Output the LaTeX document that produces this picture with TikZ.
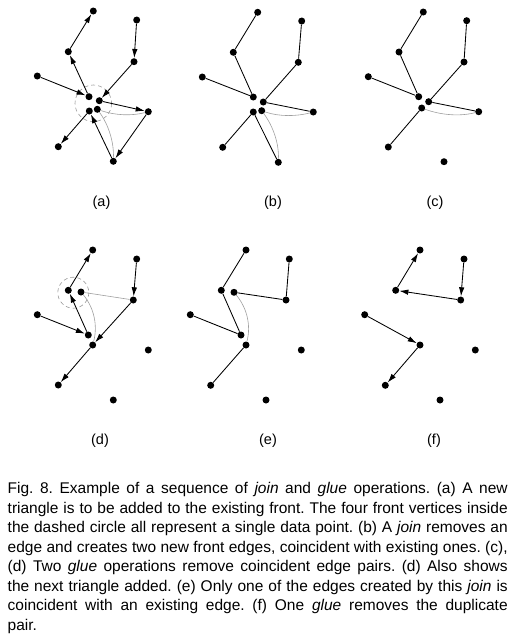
\documentclass[tikz,border=0pt]{standalone}
\usepackage{fontspec}
\setmainfont{Liberation Sans}
\usetikzlibrary{arrows.meta}
\tikzset{
  pt/.style={circle, fill=black, inner sep=0pt, minimum size=7pt},
  fe/.style={line width=0.85pt, black},
  fa/.style={fe, -{Latex[length=9pt,width=5.5pt]}},
  ge/.style={gray!75, line width=0.6pt},
  dc/.style={gray!80, dashed, line width=0.6pt, dash pattern=on 4pt off 3pt},
  lab/.style={font=\fontsize{14.5}{17}\selectfont, inner sep=0pt}
}
\newcommand\capln[1]{\hbox to 500pt{#1}}
\begin{document}
\begin{tikzpicture}[x=1pt,y=-1pt]
\useasboundingbox (0,0) rectangle (520,641);
% ---------- panel (a)
\draw[dc] (93.3,103.3) circle (18.3);
\foreach \n/\x/\y in {A/93.3/11, B/136.7/20, C/68.3/51.7, D/134/61.7, E/37.3/76, F/89/96.7, G/99.3/100.7, H/89.3/111, I/97.3/109.3, J/148.3/111.7, K/58.3/146.7, L/113.3/161.3}
  \node[pt] (a\n) at (\x,\y) {};
\draw[ge] (aI) .. controls +(17.7,6.2) and +(-16.3,4.3) .. (aJ);
\draw[ge] (aI) .. controls +(11.3,15.5) and +(0.7,-19.2) .. (aL);
\draw[fa] (aE) -- (aF);
\draw[fa] (aF) -- (aC);
\draw[fa] (aC) -- (aA);
\draw[fa] (aB) -- (aD);
\draw[fa] (aD) -- (aG);
\draw[fa] (aG) -- (aJ);
\draw[fa] (aJ) -- (aL);
\draw[fa] (aL) -- (aH);
\draw[fa] (aH) -- (aK);
\node[lab] (la) at (101.5,203) {(a)};
% ---------- panel (b)
\foreach \n/\x/\y in {A/257.7/12.3, B/301.7/21, C/233.3/52.3, D/298.3/62.3, E/202.3/77, F/253.3/97, G/263.3/102, H/253.3/112, I/261.7/110.7, J/313.3/112, K/222.7/147.3, L/278.3/162.3}
  \node[pt] (b\n) at (\x,\y) {};
\draw[ge] (bI) .. controls +(17.7,6.2) and +(-16.3,4.3) .. (bJ);
\draw[ge] (bI) .. controls +(11.3,15.5) and +(0.7,-19.2) .. (bL);
\draw[fe] (bE) -- (bF);
\draw[fe] (bF) -- (bC);
\draw[fe] (bC) -- (bA);
\draw[fe] (bB) -- (bD);
\draw[fe] (bD) -- (bG);
\draw[fe] (bG) -- (bJ);
\draw[fe] (bH) -- (bK);
\draw[fe] (bH) -- (bL);
\node[lab] (lb) at (273,203) {(b)};
% ---------- panel (c)
\foreach \n/\x/\y in {A/423.3/12, B/466.7/20.7, C/399/52, D/464/62, E/368.3/76.7, F/418.7/96.7, G/428.7/101.7, H/421.7/108, J/478.7/111.7, K/388.3/147, L/444/161.7}
  \node[pt] (c\n) at (\x,\y) {};
\draw[ge] (cH) .. controls +(19,7) and +(-19,5) .. (cJ);
\draw[fe] (cE) -- (cF);
\draw[fe] (cF) -- (cC);
\draw[fe] (cC) -- (cA);
\draw[fe] (cB) -- (cD);
\draw[fe] (cD) -- (cG);
\draw[fe] (cG) -- (cJ);
\draw[fe] (cH) -- (cK);
\node[lab] (lc) at (435,203) {(c)};
% ---------- panel (d)
\draw[dc] (73.3,292.7) circle (15.5);
\foreach \n/\x/\y in {A/92.7/250, B/136.7/259, C/68.3/290.3, CC/81/292, D/133.3/300, E/37.3/314.7, F/88.3/335, G/92.7/345, J/148.3/350, K/58.3/385, L/113.3/400}
  \node[pt] (d\n) at (\x,\y) {};
\draw[ge] (dCC) -- (dD);
\draw[ge] (dCC) .. controls +(13,15.7) and +(5.2,-19.7) .. (dG);
\draw[fa] (dE) -- (dF);
\draw[fa] (dF) -- (dC);
\draw[fa] (dC) -- (dA);
\draw[fa] (dB) -- (dD);
\draw[fa] (dD) -- (dG);
\draw[fa] (dG) -- (dK);
\node[lab] (ld) at (100,441) {(d)};
% ---------- panel (e)
\foreach \n/\x/\y in {A/246/250, B/289.3/259, C/221.3/290.3, CC/234/292.3, D/286/300, E/190.3/314.7, F/241/335, G/246/345, J/301.3/350, K/210.7/385.3, L/266/400}
  \node[pt] (e\n) at (\x,\y) {};
\draw[ge] (eCC) .. controls +(13,15.7) and +(5.2,-19.7) .. (eG);
\draw[fe] (eA) -- (eC);
\draw[fe] (eC) -- (eF);
\draw[fe] (eE) -- (eF);
\draw[fe] (eCC) -- (eD);
\draw[fe] (eD) -- (eB);
\draw[fe] (eG) -- (eK);
\node[lab] (le) at (268,441) {(e)};
% ---------- panel (f)
\foreach \n/\x/\y in {A/420/250, B/464/259, C/395.7/290.3, D/460.7/300, E/364.7/314.7, G/420/345, J/475.3/350, K/385.3/385.3, L/440/400}
  \node[pt] (f\n) at (\x,\y) {};
\draw[fa] (fC) -- (fA);
\draw[fa] (fB) -- (fD);
\draw[fa] (fD) -- (fC);
\draw[fa] (fE) -- (fG);
\draw[fa] (fG) -- (fK);
\node[lab] (lf) at (434,441) {(f)};
% ---------- caption
\node[anchor=base west, inner sep=0pt] (cap) at (7.5,493.5) {\vtop{\hsize=500pt
  \fontsize{15.5}{19.5}\selectfont\frenchspacing
  \capln{Fig. 8. Example of a sequence of \textit{join} and \textit{glue} operations. (a) A new}
  \capln{triangle is to be added to the existing front. The four front vertices inside}
  \capln{the dashed circle all represent a single data point. (b) A \textit{join} removes an}
  \capln{edge and creates two new front edges, coincident with existing ones. (c),}
  \capln{(d) Two \textit{glue} operations remove coincident edge pairs. (d) Also shows}
  \capln{the next triangle added. (e) Only one of the edges created by this \textit{join} is}
  \capln{coincident with an existing edge. (f) One \textit{glue} removes the duplicate}
  \hbox{pair.}}};
\end{tikzpicture}
\end{document}
